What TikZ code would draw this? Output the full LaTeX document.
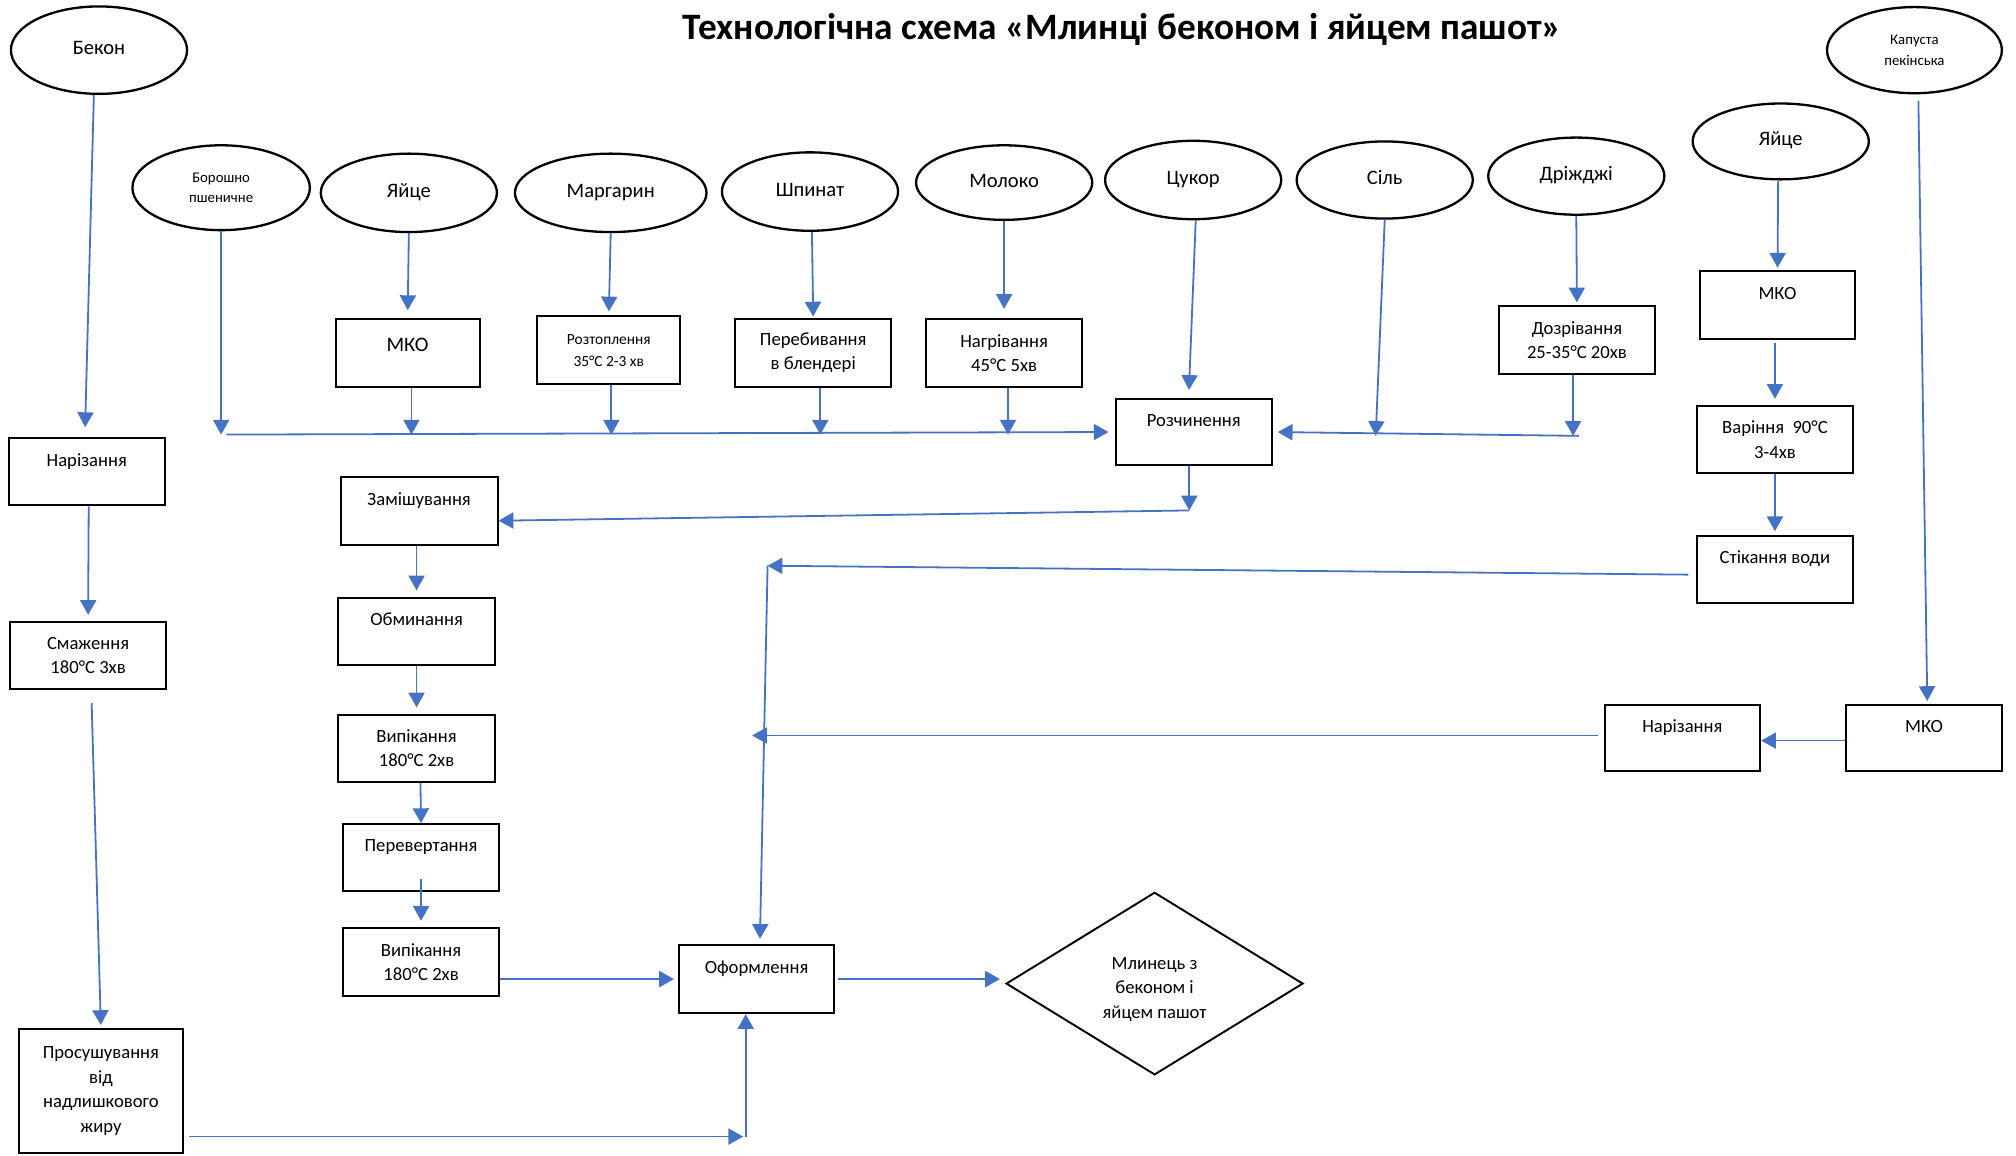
\documentclass[tikz,border=0pt]{standalone}
\usepackage{fontspec}
\setmainfont{Carlito}
\usetikzlibrary{shapes.geometric,arrows.meta,calc}
\definecolor{arrblue}{HTML}{4472C4}
\begin{document}
\begin{tikzpicture}[x=1pt,y=-1pt,
  ell/.style={draw=black, ellipse, line width=1.8pt, inner sep=0pt, align=center,
    font=\fontsize{16}{19}\selectfont, text height=11pt, text depth=4pt},
  smallell/.style={draw=black, ellipse, line width=1.8pt, inner sep=0pt, align=center,
    font=\fontsize{11.5}{16}\selectfont},
  box/.style={draw=black, rectangle, line width=1.6pt, inner sep=2pt, align=center,
    minimum width=121pt, minimum height=53pt, font=\fontsize{14.5}{19}\selectfont},
  one/.style={text height=10pt, text depth=19pt},
  arr/.style={draw=arrblue, line width=1.4pt, -{Triangle[length=11.5pt,width=12.5pt]}},
  ln/.style={draw=arrblue, line width=1.4pt}
]
\useasboundingbox (0,0) rectangle (1568,899);

% title
\node[font=\fontsize{29}{34}\selectfont\bfseries] (title) at (873,23) {Технологічна схема «Млинці беконом і яйцем пашот»};

% ellipses
\node[ell, minimum width=137pt, minimum height=68pt] (bekon) at (77,39) {Бекон};
\node[smallell, minimum width=138pt, minimum height=66pt] (boroshno) at (172,146) {Борошно\\пшеничне};
\node[ell, minimum width=137pt, minimum height=61pt] (yaitse1) at (318,150) {Яйце};
\node[ell, minimum width=149pt, minimum height=61pt] (marg) at (475,150) {Маргарин};
\node[ell, minimum width=137pt, minimum height=61pt] (shpinat) at (630,149) {Шпинат};
\node[ell, minimum width=137pt, minimum height=58pt] (moloko) at (781,142) {Молоко};
\node[ell, minimum width=137pt, minimum height=61pt] (tsukor) at (928,140) {Цукор};
\node[ell, minimum width=137pt, minimum height=60pt] (sil) at (1077,140) {Сіль};
\node[ell, minimum width=137pt, minimum height=60pt] (drizh) at (1226,137) {Дріжджі};
\node[ell, minimum width=137pt, minimum height=59pt] (yaitse2) at (1385,110) {Яйце};
\node[smallell, minimum width=136pt, minimum height=67pt] (kapusta) at (1489,39) {Капуста\\пекінська};

% boxes
\node[box, minimum width=112pt, font=\fontsize{16}{19}\selectfont, text height=10pt, text depth=12pt] (mko1) at (317,274.5) {МКО};
\node[box, minimum width=111pt, font=\fontsize{12}{17}\selectfont] (roztop) at (473.5,272.5) {Розтоплення\\35°C 2-3 хв};
\node[box] (pereb) at (632.5,274.5) {Перебивання\\в блендері};
\node[box] (nagriv) at (781,274.5) {Нагрівання\\45°C 5хв};
\node[box, one, minimum height=52pt] (rozch) at (928.5,336) {Розчинення};
\node[box] (dozr) at (1226.5,264.5) {Дозрівання\\25-35°C 20хв};
\node[box, one] (mko2) at (1382.5,237.5) {МКО};
\node[box, minimum height=52pt] (varin) at (1380.5,342) {Варіння~~90°C\\3-4хв};
\node[box, one, minimum height=52pt] (stik) at (1380.5,443) {Стікання води};
\node[box, one, minimum height=52pt] (nariz1) at (67.5,367) {Нарізання};
\node[box, minimum height=52pt] (smazh) at (68.5,510) {Смаження\\180°C 3хв};
\node[box, minimum width=127pt, minimum height=97pt] (prosush) at (78.5,848.5) {Просушування\\від\\надлишкового\\жиру};
\node[box, one, minimum width=122pt] (zamish) at (326,397.5) {Замішування};
\node[box, one, minimum width=122pt, minimum height=52pt] (obmin) at (324,491) {Обминання};
\node[box, minimum width=122pt, minimum height=52pt] (vypik1) at (324,582) {Випікання\\180°C 2хв};
\node[box, one, minimum height=52pt] (perev) at (327.5,667) {Перевертання};
\node[box] (vypik2) at (327.5,748.5) {Випікання\\180°C 2хв};
\node[box, one] (oform) at (588.5,761.5) {Оформлення};
\node[box, one, minimum height=52pt] (nariz2) at (1308.5,574) {Нарізання};
\node[box, one, minimum height=52pt] (mko3) at (1496.5,574) {МКО};
\node[draw=black, diamond, line width=1.5pt, inner sep=0pt, minimum width=231pt, minimum height=142pt,
  align=center, font=\fontsize{14.5}{19}\selectfont] (final) at (898,765) {\mbox{}\\[-1pt]Млинець з\\беконом і\\яйцем пашот};

% named junction points
\coordinate (busL) at (176,338);
\coordinate (busR) at (1228,339);
\coordinate (busS) at (1070,339);
\coordinate (rz) at (925,397);
\coordinate (sv) at (597,440);
\coordinate (nv) at (585,572);
\coordinate (pc) at (580,884);

% left column (bacon)
\draw[arr, shorten >=8pt] ([xshift=-4pt]bekon.south) -- ([xshift=-1.5pt]nariz1.north);
\draw[arr, shorten >=5pt] ([xshift=1.5pt]nariz1.south) -- (smazh.north);
\draw[arr, shorten <=10pt, shorten >=2pt] ([xshift=2.5pt]smazh.south) -- (prosush.north);
\draw[arr, shorten <=4pt, shorten >=2pt] (prosush.east |- pc) -- (pc);
\draw[arr] (pc) -- (pc |- oform.south);

% dough ingredients to bus
\draw[arr] (boroshno.south) -- (boroshno.south |- busL);
\draw[arr, shorten >=6pt] (yaitse1.south) -- (mko1.north);
\draw[arr] ([xshift=3pt]mko1.south) -- ([xshift=3pt]mko1.south |- busL);
\draw[arr, shorten >=3pt] (marg.south) -- (roztop.north);
\draw[arr] ([xshift=2pt]roztop.south) -- ([xshift=2pt]roztop.south |- busL);
\draw[arr, shorten >=1pt] ([xshift=1.5pt]shpinat.south) -- (pereb.north);
\draw[arr] ([xshift=5.5pt]pereb.south) -- ([xshift=5.5pt]pereb.south |- busL);
\draw[arr, shorten >=7pt] (moloko.south) -- (nagriv.north);
\draw[arr] ([xshift=3pt]nagriv.south) -- ([xshift=3pt]nagriv.south |- busL);
\draw[arr, shorten >=5pt] (busL) -- (rozch.west);
\draw[arr, shorten >=6pt] ([xshift=2pt]tsukor.south) -- ([xshift=-4pt]rozch.north);
\draw[arr] (sil.south) -- (busS);
\draw[arr, shorten >=2pt] (drizh.south) -- (dozr.north);
\draw[arr] ([xshift=-3pt]dozr.south) -- ([xshift=-3pt]dozr.south |- busR);
\draw[arr, shorten >=4pt] (busR) -- (rozch.east);

% dough processing
\draw[arr] ([xshift=-3.5pt]rozch.south) -- (rz);
\draw[arr] (rz) -- ([yshift=-7.5pt]zamish.east);
\draw[arr, shorten >=5pt] ([xshift=-2pt]zamish.south) -- (obmin.north);
\draw[arr, shorten >=5pt] (obmin.south) -- (vypik1.north);
\draw[arr] ([xshift=3pt]vypik1.south) -- (perev.north);
\draw[arr, shorten >=5pt] ([yshift=10pt]perev.south) -- (vypik2.north);
\draw[arr, shorten >=3pt] (vypik2.east |- oform.west) -- (oform.west);
\draw[arr, shorten <=2pt, shorten >=4pt] (oform.east) -- (oform.east -| final.west);

% egg poaching
\draw[arr, shorten >=2pt] ([xshift=-2pt]yaitse2.south) -- (mko2.north);
\draw[arr, shorten <=2pt, shorten >=5pt] ([xshift=-2pt]mko2.south) -- (varin.north);
\draw[arr, shorten >=3pt] (varin.south) -- (stik.north);
\draw[arr, shorten <=6pt] ([yshift=-4pt]stik.west) -- (sv);
\draw[arr, shorten >=4pt] (sv) -- ([xshift=2.5pt]oform.north);

% cabbage
\draw[arr, shorten <=5pt, shorten >=2pt] ([xshift=3pt]kapusta.south) -- ([xshift=2.5pt]mko3.north);
\draw[arr] ([yshift=-2pt]mko3.west) -- ([yshift=-2pt]nariz2.east);
\draw[arr, shorten <=4pt] ([yshift=2pt]nariz2.west) -- (nv);
\end{tikzpicture}
\end{document}
